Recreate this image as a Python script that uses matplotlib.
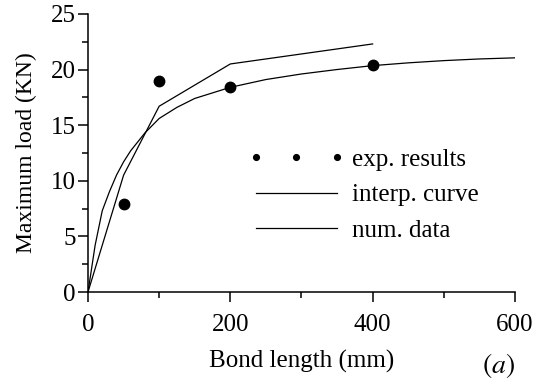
#!/usr/bin/env python3
"""Maximum load vs bond length: experiments, interpolation and numerical data."""

import matplotlib
matplotlib.use("Agg")
import matplotlib.pyplot as plt
from matplotlib.ticker import MultipleLocator

# experimental results
exp_x = [50, 100, 200, 400]
exp_y = [7.9, 19.0, 18.4, 20.4]

# interpolation curve (piecewise linear)
interp_x = [0, 50, 100, 200, 400]
interp_y = [0, 10.5, 16.7, 20.5, 22.3]

# numerical data
num_x = [0, 10, 20, 30, 40, 50, 60, 80, 100, 125, 150, 175, 200,
         250, 300, 350, 400, 450, 500, 550, 600]
num_y = [0, 4.2, 7.3, 9.0, 10.5, 11.7, 12.7, 14.3, 15.6, 16.6, 17.4, 17.9, 18.4,
         19.1, 19.6, 20.0, 20.35, 20.6, 20.8, 20.95, 21.05]

plt.rcParams["font.family"] = ["Liberation Serif", "DejaVu Serif"]
plt.rcParams["mathtext.fontset"] = "stix"

FS = 18


def main() -> int:
    fig = plt.figure(figsize=(5.35, 3.82), dpi=100)
    ax = fig.add_axes([0.1645, 0.2356, 0.798, 0.728])

    ax.plot(exp_x, exp_y, "o", color="black", markersize=7.5, linestyle="none",
            label="exp. results")
    ax.plot(interp_x, interp_y, color="black", linewidth=0.9, label="interp. curve")
    ax.plot(num_x, num_y, color="black", linewidth=0.9, label="num. data")

    ax.set_xlim(0, 600)
    ax.set_ylim(0, 25)
    ax.xaxis.set_major_locator(MultipleLocator(200))
    ax.xaxis.set_minor_locator(MultipleLocator(100))
    ax.yaxis.set_major_locator(MultipleLocator(5))
    ax.yaxis.set_minor_locator(MultipleLocator(2.5))

    for side in ["top", "right"]:
        ax.spines[side].set_visible(False)
    for side in ["left", "bottom"]:
        ax.spines[side].set_linewidth(1.1)

    ax.tick_params(which="major", direction="out", length=7, width=1.1, labelsize=FS)
    ax.tick_params(axis="x", which="major", pad=9)
    ax.tick_params(axis="y", which="major", pad=2)
    ax.tick_params(which="minor", direction="out", length=4.5, width=1.1)

    ax.set_xlabel("Bond length (mm)", fontsize=FS, labelpad=10)
    ax.set_ylabel("Maximum load (KN)", fontsize=17, labelpad=10)

    ax.legend(loc="upper left", bbox_to_anchor=(0.352, 0.552), frameon=False,
              numpoints=3, markerscale=0.55, fontsize=FS, handlelength=3.85,
              handletextpad=0.3, labelspacing=0.52, borderaxespad=0)

    fig.text(0.962, 0.004, "$(a)$", fontsize=20, ha="right", va="bottom")

    fig.savefig("out.png", dpi=100)
    plt.close(fig)
    return 0


if __name__ == "__main__":
    raise SystemExit(main())
